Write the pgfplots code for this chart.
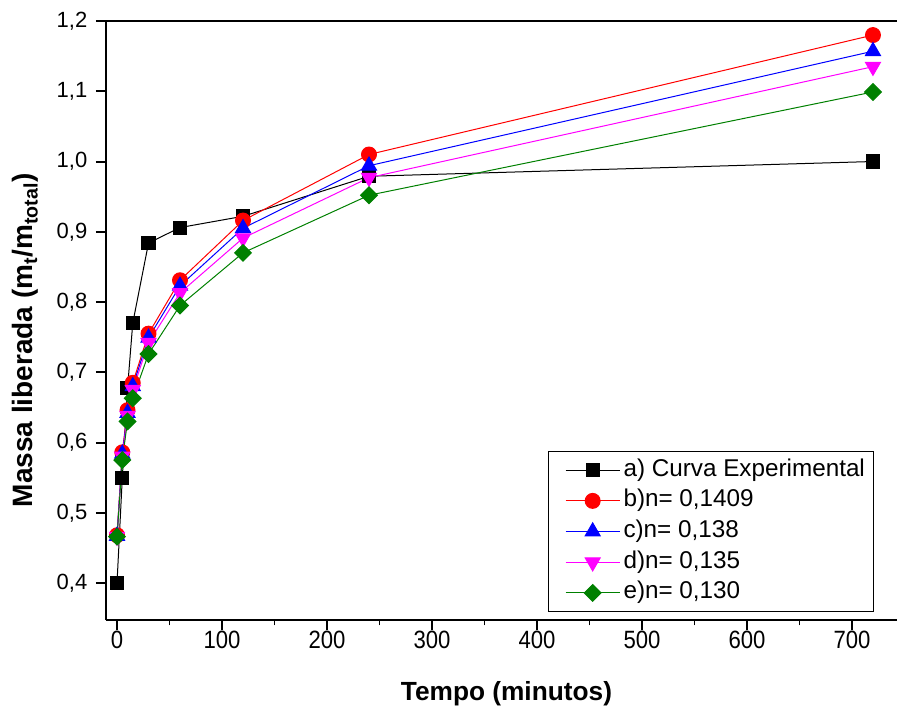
\documentclass[border=0pt]{standalone}
\usepackage{pgfplots}
\pgfplotsset{compat=1.18}
\usepackage{fontspec}
\setmainfont{Liberation Sans}
\newfontfamily\narrowfont[FakeStretch=0.885]{Liberation Sans}

\definecolor{cgreen}{RGB}{0,128,0}
\definecolor{cmag}{RGB}{255,0,255}

\begin{document}
\begin{tikzpicture}
\begin{axis}[
  scale only axis,
  width=593.25pt, height=449.25pt,
  xmin=-10.5, xmax=742.9,
  ymin=0.3473, ymax=1.2,
  axis x line*=box, axis y line*=left,
  axis line style={line width=1.5pt, black},
  tick align=outside,
  tick pos=left,
  major tick length=7.5pt,
  minor tick length=4pt,
  every major tick/.append style={line width=1.5pt, black},
  every minor tick/.append style={line width=1.2pt, black},
  xtick={0,100,200,300,400,500,600,700},
  xticklabels={0,100,200,300,400,500,600,700},
  minor xtick={50,150,250,350,450,550,650},
  ytick={0.4,0.5,0.6,0.7,0.8,0.9,1.0,1.1,1.2},
  yticklabels={{0,4},{0,5},{0,6},{0,7},{0,8},{0,9},{1,0},{1,1},{1,2}},
  xticklabel style={font=\narrowfont\fontsize{18.75}{20}\selectfont, yshift=2.5pt},
  yticklabel style={font=\fontsize{16.5}{18}\selectfont, xshift=-3pt},
  xlabel={\bfseries Tempo (minutos)},
  ylabel={\bfseries Massa liberada (m\textsubscript{t}/m\textsubscript{total})},
  xlabel style={font=\fontsize{19.7}{22}\selectfont, at={(axis description cs:0.5063,-0.1336)}, anchor=base},
  ylabel style={font=\fontsize{21}{24}\selectfont, at={(axis description cs:-0.0923,0.467)}, anchor=base},
  legend style={at={(axis description cs:0.5588,0.2821)}, anchor=north west,
    draw=black, line width=0.75pt, font=\fontsize{18.2}{20}\selectfont,
    cells={anchor=west}, inner xsep=4pt, inner ysep=2.5pt,
    nodes={inner sep=2.5pt, text height=13.5pt, text depth=4.5pt}},
  legend cell align=left,
  legend image code/.code={\path (0pt,-1pt) (0pt,1pt); \draw[mark repeat=2,mark phase=2,#1] plot coordinates {(8.5pt,0pt) (28.75pt,0pt) (49pt,0pt)};},
  every axis plot/.append style={line width=0.75pt},
]
\addplot[black, mark=square*, mark size=4.9pt, mark options={solid, fill=black}]
  coordinates {(0,0.400) (5,0.549) (10,0.677) (15,0.770) (30,0.884) (60,0.906) (120,0.922) (240,0.979) (720,1.000)};
\addlegendentry{a) Curva Experimental}
\addplot[red, mark=*, mark size=5.6pt, mark options={solid, fill=red}]
  coordinates {(0,0.468) (5,0.586) (10,0.646) (15,0.685) (30,0.755) (60,0.831) (120,0.916) (240,1.010) (720,1.180)};
\addlegendentry{b)n= 0,1409}
\addplot[blue, mark=triangle*, mark size=6.5pt, mark options={solid, fill=blue}]
  coordinates {(0,0.467) (5,0.584) (10,0.642) (15,0.680) (30,0.749) (60,0.823) (120,0.905) (240,0.994) (720,1.157)};
\addlegendentry{c)n= 0,138}
\addplot[cmag, mark=triangle*, mark size=6.5pt, mark options={solid, fill=cmag, rotate=180}]
  coordinates {(0,0.466) (5,0.580) (10,0.638) (15,0.675) (30,0.742) (60,0.813) (120,0.891) (240,0.977) (720,1.135)};
\addlegendentry{d)n= 0,135}
\addplot[cgreen, mark=square*, mark size=4.43pt, mark options={solid, fill=cgreen, rotate=45}]
  coordinates {(0,0.466) (5,0.575) (10,0.630) (15,0.663) (30,0.726) (60,0.795) (120,0.870) (240,0.952) (720,1.099)};
\addlegendentry{e)n= 0,130}
\coordinate (ll) at (rel axis cs:-0.1340,-0.1452);
\coordinate (ur) at (rel axis cs:1,1.0351);
\end{axis}
\pgfresetboundingbox
\useasboundingbox (ll) rectangle (ur);
\end{tikzpicture}
\end{document}
